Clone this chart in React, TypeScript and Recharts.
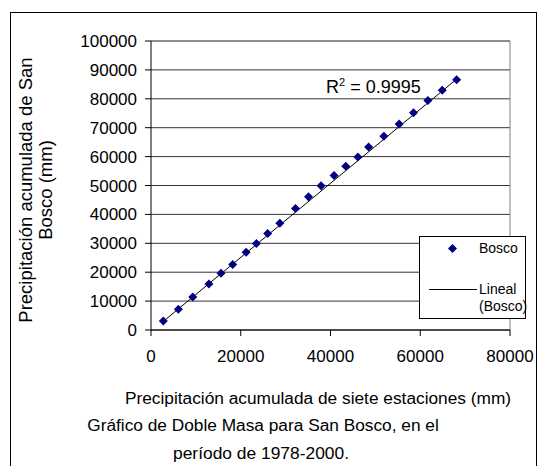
import React from "react";
import {
  ScatterChart,
  Scatter,
  XAxis,
  YAxis,
  CartesianGrid,
  ReferenceLine,
} from "recharts";

// acumulado siete estaciones (mm) vs acumulado San Bosco (mm)
const ACUM_ESTACIONES = [
  2750, 6100, 9300, 12900, 15600, 18200, 21200, 23500, 26000, 28700, 32200, 35100,
  37900, 40800, 43400, 46100, 48500, 51900, 55300, 58500, 61700, 64900, 68100,
];
const ACUM_BOSCO = [
  3100, 7200, 11400, 15900, 19600, 22700, 26900, 29900, 33400, 36900, 42000, 46100,
  49900, 53500, 56700, 59900, 63300, 67000, 71300, 75200, 79400, 83000, 86600,
];
// extremos de la línea de tendencia lineal
const TREND_X = [2750, 68100];
const TREND_Y = [3000, 86800];

const X_TICKS = [0, 20000, 40000, 60000, 80000];
const Y_TICKS = [0, 10000, 20000, 30000, 40000, 50000, 60000, 70000, 80000, 90000, 100000];

const puntos = ACUM_ESTACIONES.map((x, i) => ({ x, y: ACUM_BOSCO[i] }));
const tendencia = TREND_X.map((x, i) => ({ x, y: TREND_Y[i] }));

const FONT = '"Liberation Sans", Arial, sans-serif';
const AZUL = "#000080";

function Diamante(props: any) {
  const { cx, cy } = props;
  const r = 4.5;
  return (
    <path
      d={`M${cx},${cy - r}L${cx + r},${cy}L${cx},${cy + r}L${cx - r},${cy}Z`}
      fill={AZUL}
    />
  );
}

export default function App() {
  return (
    <div
      style={{
        position: "absolute",
        left: 0,
        top: 0,
        width: 539,
        height: 466,
        background: "#fff",
        fontFamily: FONT,
      }}
    >
      <ScatterChart
        width={539}
        height={466}
        margin={{ top: 41, right: 29, bottom: 106, left: 91 }}
      >
        <CartesianGrid vertical={false} stroke="#333" />
        <XAxis
          type="number"
          dataKey="x"
          domain={[0, 80000]}
          ticks={X_TICKS}
          height={30}
          stroke="#000"
          tickSize={6}
          tickMargin={14}
          tick={{ fill: "#000", fontSize: 17, fontFamily: FONT }}
        />
        <YAxis
          type="number"
          dataKey="y"
          domain={[0, 100000]}
          ticks={Y_TICKS}
          width={60}
          stroke="#000"
          tickSize={6}
          tickMargin={8}
          tick={{ fill: "#000", fontSize: 17, fontFamily: FONT }}
        />
        <ReferenceLine y={100000} stroke="#808080" />
        <ReferenceLine x={80000} stroke="#808080" />
        <Scatter
          data={tendencia}
          line={{ stroke: "#000", strokeWidth: 1 }}
          shape={() => <g />}
          isAnimationActive={false}
        />
        <Scatter data={puntos} shape={<Diamante />} isAnimationActive={false} />
      </ScatterChart>

      <svg
        width={539}
        height={466}
        style={{ position: "absolute", left: 0, top: 0, pointerEvents: "none" }}
        fontFamily={FONT}
      >
        <rect x={10.5} y={12.5} width={526} height={470} fill="none" stroke="#000" />

        <g transform="translate(25,190) rotate(-90)">
          <text textAnchor="middle" dominantBaseline="central" fontSize={18.5}>
            Precipitación acumulada de San
          </text>
        </g>
        <g transform="translate(45,190) rotate(-90)">
          <text textAnchor="middle" dominantBaseline="central" fontSize={18.5}>
            Bosco (mm)
          </text>
        </g>

        <text x={318} y={398} textAnchor="middle" dominantBaseline="central" fontSize={17.3}>
          Precipitación acumulada de siete estaciones (mm)
        </text>
        <text x={263} y={425} textAnchor="middle" dominantBaseline="central" fontSize={17.3}>
          Gráfico de Doble Masa para San Bosco, en el
        </text>
        <text x={261} y={453} textAnchor="middle" dominantBaseline="central" fontSize={17.4}>
          período de 1978-2000.
        </text>

        <text x={326} y={93} fontSize={18}>
          R<tspan dy={-7} fontSize={11}>2</tspan>
          <tspan dy={7}> = 0.9995</tspan>
        </text>

        <rect x={419.5} y={236.5} width={106} height={82} fill="#fff" stroke="#000" />
        <path d="M452.5,244L457,248.5L452.5,253L448,248.5Z" fill={AZUL} />
        <text x={479} y={248} dominantBaseline="central" fontSize={14}>
          Bosco
        </text>
        <line x1={429} y1={289.5} x2={477} y2={289.5} stroke="#000" />
        <text x={479} y={289} dominantBaseline="central" fontSize={14}>
          Lineal
        </text>
        <text x={479} y={306} dominantBaseline="central" fontSize={14}>
          (Bosco)
        </text>
      </svg>
    </div>
  );
}
